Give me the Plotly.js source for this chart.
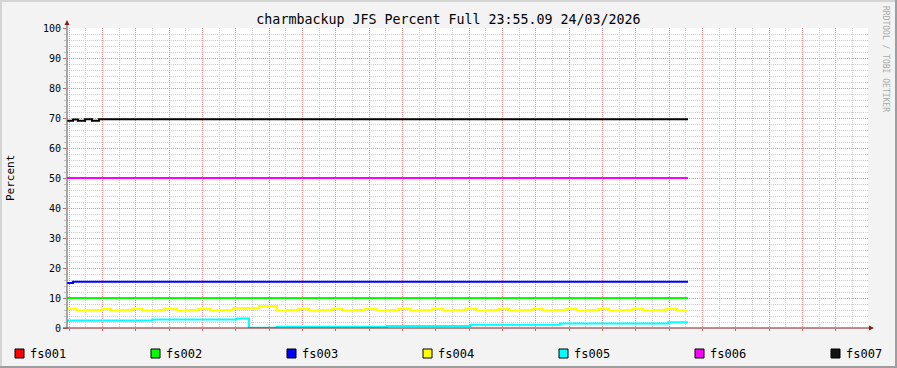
<!DOCTYPE html>
<html>
<head>
<meta charset="utf-8">
<script src="https://cdn.plot.ly/plotly-3.0.1.min.js"></script>
<style>
html,body{margin:0;padding:0;background:#f3f3f3;}
#chart{width:897px;height:368px;}
</style>
</head>
<body>
<div id="chart"></div>
<script>
// ---- data (hours since Wed 00:00) ----
const seriesNames = ["fs001", "fs002", "fs003", "fs004", "fs005", "fs006", "fs007"];
const seriesColors = ["#FF0000", "#00FF00", "#0000FF", "#FFFF00", "#00FFFF", "#FF00FF", "#000000"];

const fs001T = [];
const fs001V = [];
const fs002T = [-0.06, 18.57];
const fs002V = [10.0, 10.0];
const fs003T = [-0.06, 0.12, 18.57];
const fs003V = [15.0, 15.4, 15.4];
const fs004T = [-0.06, 0.21, 0.57, 0.99, 1.26, 1.56, 1.89, 2.19, 2.52, 2.85, 3.24, 3.51, 3.87, 4.23, 4.59,
  4.92, 5.70, 6.24, 6.55,
  6.87, 7.2, 7.5, 7.89, 8.22, 8.55, 8.88, 9.21, 9.54, 9.87, 10.23, 10.56, 10.9, 11.23, 11.56,
  11.9, 12.23, 12.56, 12.87, 13.2, 13.53, 13.9, 14.23, 14.56, 14.9, 15.23, 15.56, 15.87, 16.2, 16.53,
  16.9, 17.23, 17.56, 17.9, 18.24, 18.57];
const fs004V = [6.4, 5.8, 6.0, 6.4, 5.8, 6.0, 6.4, 5.8, 6.0, 6.4, 5.8, 6.0, 6.4, 5.8, 6.0,
  6.7, 7.3, 5.8, 6.0,
  6.4, 5.8, 6.0, 6.4, 5.8, 6.0, 6.4, 5.8, 6.0, 6.4, 5.8, 6.0, 6.4, 5.8, 6.0,
  6.4, 5.8, 6.0, 6.4, 5.8, 6.0, 6.4, 5.8, 6.0, 6.4, 5.8, 6.0, 6.4, 5.8, 6.0,
  6.4, 5.8, 6.0, 6.4, 5.8, 5.8];
const fs005T = [-0.06, 2.5, 5.03, 5.4, 6.24, 9.54, 12.03, 14.73, 17.97, 18.57];
const fs005V = [2.5, 2.8, 3.2, 0.1, 0.4, 0.7, 1.1, 1.5, 1.9, 1.9];
const fs006T = [-0.06, 18.57];
const fs006V = [50.0, 50.0];
const fs007T = [-0.06, 0.12, 0.27, 0.48, 0.69, 0.9, 18.57];
const fs007V = [69.1, 69.5, 69.1, 69.6, 69.1, 69.6, 69.6];

const seriesT = [fs001T, fs002T, fs003T, fs004T, fs005T, fs006T, fs007T];
const seriesV = [fs001V, fs002V, fs003V, fs004V, fs005V, fs006V, fs007V];

const gridHours = [0,1,2,3,4,5,6,7,8,9,10,11,12,13,14,15,16,17,18,19,20,21,22,23];
const labelHours = [0, 3, 6, 9, 12, 15, 18, 21];
const labelTexts = ["Wed 00:00", "Wed 03:00", "Wed 06:00", "Wed 09:00", "Wed 12:00", "Wed 15:00", "Wed 18:00", "Wed 21:00"];
const yTicks = [0,10,20,30,40,50,60,70,80,90,100];
const yMinor = [2,4,6,8,12,14,16,18,22,24,26,28,32,34,36,38,42,44,46,48,52,54,56,58,62,64,66,68,72,74,76,78,82,84,86,88,92,94,96,98];

const titleText = "charmbackup JFS Percent Full 23:55.09 24/03/2026";
const yTitle = "Percent";
const watermark = "RRDTOOL / TOBI OETIKER";

// ---- layout helpers (pixel -> paper) ----
const L = 67, R = 868, T = 28, B = 328, W = 897, H = 368;
const px = v => (v - L) / (R - L);
const py = v => (B - v) / (B - T);

const font = "DejaVu Sans Mono, monospace";
const DASH = "1px,1px";

const traces = seriesNames.map((n, i) => ({
  type: "scatter", mode: "lines", name: n,
  x: seriesT[i], y: seriesV[i],
  line: {color: seriesColors[i], width: 2, shape: "hv"},
  showlegend: false, hoverinfo: "skip"
}));

const shapes = [];
const annotations = [];

// frame
shapes.push({type:"line", xref:"paper", yref:"paper", x0:px(0), x1:px(W), y0:py(1), y1:py(1), line:{color:"#d4d4d4", width:2}});
shapes.push({type:"line", xref:"paper", yref:"paper", x0:px(1), x1:px(1), y0:py(0), y1:py(H), line:{color:"#d4d4d4", width:2}});
shapes.push({type:"line", xref:"paper", yref:"paper", x0:px(0), x1:px(W), y0:py(H-1), y1:py(H-1), line:{color:"#9e9e9e", width:2}});
shapes.push({type:"line", xref:"paper", yref:"paper", x0:px(W-1), x1:px(W-1), y0:py(0), y1:py(H), line:{color:"#9e9e9e", width:2}});

// axes with arrows
shapes.push({type:"line", xref:"paper", yref:"paper", x0:px(67), x1:px(67), y0:py(B+1), y1:py(23), line:{color:"#555555", width:1}, layer:"above"});
shapes.push({type:"line", xref:"paper", yref:"paper", x0:px(63), x1:px(870), y0:py(B), y1:py(B), line:{color:"#7f1f1f", width:1}, layer:"above"});
shapes.push({type:"path", xref:"paper", yref:"paper", layer:"above",
  path:`M ${px(64.5)} ${py(25)} L ${px(69.5)} ${py(25)} L ${px(67)} ${py(20)} Z`,
  fillcolor:"#7f1f1f", line:{color:"#7f1f1f", width:0}});
shapes.push({type:"path", xref:"paper", yref:"paper", layer:"above",
  path:`M ${px(869)} ${py(325.5)} L ${px(869)} ${py(330.5)} L ${px(874)} ${py(328)} Z`,
  fillcolor:"#7f1f1f", line:{color:"#7f1f1f", width:0}});

// legend
seriesNames.forEach((n, i) => {
  const x0 = 15 + 136 * i;
  shapes.push({type:"rect", xref:"paper", yref:"paper", x0:px(x0), x1:px(x0+9), y0:py(349), y1:py(358),
    fillcolor: seriesColors[i] === "#000000" ? "#111111" : seriesColors[i], line:{color:"#000000", width:1}});
  annotations.push({xref:"paper", yref:"paper", x:px(x0+13), y:py(354), xanchor:"left", yanchor:"middle",
    text:n, showarrow:false, font:{family:font, size:12, color:"#000"}});
});

annotations.push({xref:"paper", yref:"paper", x:px(10), y:py(178), xanchor:"center", yanchor:"middle",
  text:yTitle, textangle:-90, showarrow:false, font:{family:font, size:11, color:"#000"}});
annotations.push({xref:"paper", yref:"paper", x:px(886), y:py(59), xanchor:"center", yanchor:"middle",
  text:watermark, textangle:90, showarrow:false, font:{family:font, size:8, color:"#aaaaaa"}});

const layout = {
  width: W, height: H,
  margin: {l: L, r: W - R, t: T, b: H - B, pad: 0},
  paper_bgcolor: "#f3f3f3",
  plot_bgcolor: "#ffffff",
  showlegend: false,
  title: {text: titleText, x: 0.5, xanchor: "center", y: 1 - 19/H, yanchor: "middle",
    font: {family: font, size: 13.3, color: "#000"}},
  xaxis: {
    range: [-0.06, 23.97], fixedrange: true,
    tickmode: "array", tickvals: gridHours, showticklabels: false,
    showgrid: true, gridcolor: "#ee9090", griddash: DASH, gridwidth: 1,
    ticks: "outside", ticklen: 2, tickcolor: "#e06060", tickwidth: 1,
    minor: {tickmode: "array", tickvals: gridHours.map(h => h + 0.5), showgrid: true, gridcolor: "#cfcfcf", griddash: DASH, gridwidth: 1, ticks: ""},
    zeroline: false, showline: false
  },
  xaxis2: {
    overlaying: "x", side: "bottom", anchor: "y",
    range: [-0.06, 23.97], fixedrange: true,
    tickmode: "array", tickvals: labelHours, ticktext: labelTexts,
    showgrid: false, zeroline: false, showline: false, ticks: "",
    tickfont: {family: font, size: 10, color: "#000"}
  },
  yaxis: {
    range: [0, 100], fixedrange: true,
    tickmode: "array", tickvals: yTicks, ticktext: yTicks.map(String),
    showgrid: true, gridcolor: "#ee9090", griddash: DASH, gridwidth: 1,
    ticks: "outside", ticklen: 3, tickcolor: "#e06060", tickwidth: 1,
    minor: {tickmode: "array", tickvals: yMinor, showgrid: true, gridcolor: "#cfcfcf", griddash: DASH, gridwidth: 1, ticks: "outside", ticklen: 2, tickcolor: "#c0c0c0"},
    zeroline: false, showline: false,
    tickfont: {family: font, size: 10, color: "#000"}
  },
  shapes: shapes,
  annotations: annotations
};

Plotly.newPlot("chart", traces, layout, {staticPlot: true, displayModeBar: false});
</script>
</body>
</html>
